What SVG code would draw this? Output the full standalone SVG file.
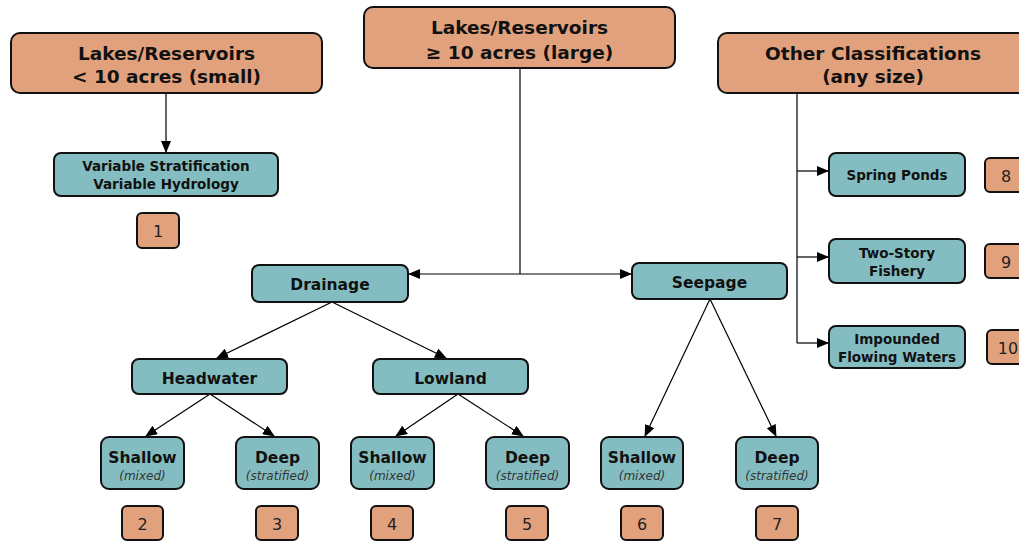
<svg xmlns="http://www.w3.org/2000/svg" width="1019" height="541" viewBox="0 0 1019 541">
<defs>
<marker id="ah" markerWidth="12" markerHeight="10" refX="11" refY="5" orient="auto" markerUnits="userSpaceOnUse"><path d="M0,0 L12,5 L0,10 z" fill="#000"/></marker>
</defs>
<style>
.o{fill:#E2A17D;stroke:#111;stroke-width:2}
.t{fill:#84BDC1;stroke:#111;stroke-width:2}
.h{font-family:"DejaVu Sans",Verdana,sans-serif;font-weight:bold;font-size:18.5px;fill:#111;text-anchor:middle}
.m{font-family:"DejaVu Sans",Verdana,sans-serif;font-weight:bold;font-size:15.5px;fill:#111;text-anchor:middle}
.s{font-family:"DejaVu Sans",Verdana,sans-serif;font-weight:bold;font-size:13.5px;fill:#111;text-anchor:middle}
.i{font-family:"DejaVu Sans",Verdana,sans-serif;font-style:italic;font-size:12px;fill:#333;text-anchor:middle}
.n{font-family:"DejaVu Sans",Verdana,sans-serif;font-size:16px;fill:#222;text-anchor:middle}
.c{fill:none;stroke:#000;stroke-width:1.2}
</style>
<rect width="1019" height="541" fill="#fff"/>
<g id="connectors">
<line class="c" x1="166" y1="93" x2="166" y2="152" marker-end="url(#ah)"/>
<line class="c" x1="520" y1="68" x2="520" y2="274"/>
<line class="c" x1="520" y1="274" x2="409" y2="274" marker-end="url(#ah)"/>
<line class="c" x1="520" y1="274" x2="631" y2="274" marker-end="url(#ah)"/>
<line class="c" x1="797" y1="93" x2="797" y2="343"/>
<line class="c" x1="797" y1="171" x2="828" y2="171" marker-end="url(#ah)"/>
<line class="c" x1="797" y1="257" x2="828" y2="257" marker-end="url(#ah)"/>
<line class="c" x1="797" y1="343" x2="828" y2="343" marker-end="url(#ah)"/>
<line class="c" x1="332" y1="302" x2="217" y2="358" marker-end="url(#ah)"/>
<line class="c" x1="332" y1="302" x2="446" y2="358" marker-end="url(#ah)"/>
<line class="c" x1="210" y1="394" x2="146" y2="436" marker-end="url(#ah)"/>
<line class="c" x1="210" y1="394" x2="274" y2="436" marker-end="url(#ah)"/>
<line class="c" x1="458" y1="394" x2="396" y2="436" marker-end="url(#ah)"/>
<line class="c" x1="458" y1="394" x2="523" y2="436" marker-end="url(#ah)"/>
<line class="c" x1="710" y1="299" x2="645" y2="436" marker-end="url(#ah)"/>
<line class="c" x1="710" y1="299" x2="776" y2="436" marker-end="url(#ah)"/>
</g>
<g id="small"><rect class="o" x="11" y="33" width="311" height="60" rx="9"/><text class="h" x="166.5" y="60">Lakes/Reservoirs</text><text class="h" x="166.5" y="83">&lt; 10 acres (small)</text></g>
<g id="large"><rect class="o" x="364" y="7" width="311" height="61" rx="9"/><text class="h" x="519.5" y="34">Lakes/Reservoirs</text><text class="h" x="519.5" y="59">≥ 10 acres (large)</text></g>
<g id="other"><rect class="o" x="718" y="33" width="310" height="60" rx="9"/><text class="h" x="873" y="60">Other Classifications</text><text class="h" x="873" y="83">(any size)</text></g>
<g id="variable"><rect class="t" x="54" y="153" width="224" height="43" rx="7"/><text class="s" x="166" y="171">Variable Stratification</text><text class="s" x="166" y="189">Variable Hydrology</text></g>
<g id="n1"><rect class="o" x="137" y="213" width="42" height="35" rx="5"/><text class="n" x="158" y="237">1</text></g>
<g id="drainage"><rect class="t" x="252" y="265" width="156" height="37" rx="7"/><text class="m" x="330" y="290">Drainage</text></g>
<g id="seepage"><rect class="t" x="632" y="263" width="155" height="36" rx="7"/><text class="m" x="709.5" y="288">Seepage</text></g>
<g id="headwater"><rect class="t" x="132" y="359" width="155" height="35" rx="7"/><text class="m" x="209.5" y="384">Headwater</text></g>
<g id="lowland"><rect class="t" x="373" y="359" width="155" height="35" rx="7"/><text class="m" x="450.5" y="384">Lowland</text></g>
<g id="hw-shallow"><rect class="t" x="101" y="437" width="83" height="52" rx="8"/><text class="m" x="142.5" y="463">Shallow</text><text class="i" x="142.5" y="480">(mixed)</text></g>
<g id="hw-deep"><rect class="t" x="236" y="437" width="83" height="52" rx="8"/><text class="m" x="277.5" y="463">Deep</text><text class="i" x="277.5" y="480">(stratified)</text></g>
<g id="lw-shallow"><rect class="t" x="351" y="437" width="83" height="52" rx="8"/><text class="m" x="392.5" y="463">Shallow</text><text class="i" x="392.5" y="480">(mixed)</text></g>
<g id="lw-deep"><rect class="t" x="486" y="437" width="83" height="52" rx="8"/><text class="m" x="527.5" y="463">Deep</text><text class="i" x="527.5" y="480">(stratified)</text></g>
<g id="sp-shallow"><rect class="t" x="601" y="437" width="82" height="52" rx="8"/><text class="m" x="642" y="463">Shallow</text><text class="i" x="642" y="480">(mixed)</text></g>
<g id="sp-deep"><rect class="t" x="736" y="437" width="82" height="52" rx="8"/><text class="m" x="777" y="463">Deep</text><text class="i" x="777" y="480">(stratified)</text></g>
<g id="n2"><rect class="o" x="122" y="506" width="41" height="34" rx="5"/><text class="n" x="142.5" y="530">2</text></g>
<g id="n3"><rect class="o" x="256" y="506" width="42" height="34" rx="5"/><text class="n" x="277" y="530">3</text></g>
<g id="n4"><rect class="o" x="371" y="506" width="42" height="34" rx="5"/><text class="n" x="392" y="530">4</text></g>
<g id="n5"><rect class="o" x="506" y="506" width="42" height="34" rx="5"/><text class="n" x="527" y="530">5</text></g>
<g id="n6"><rect class="o" x="621" y="506" width="42" height="34" rx="5"/><text class="n" x="642" y="530">6</text></g>
<g id="n7"><rect class="o" x="756" y="506" width="42" height="34" rx="5"/><text class="n" x="777" y="530">7</text></g>
<g id="spring"><rect class="t" x="829" y="153" width="136" height="43" rx="7"/><text class="s" x="897" y="180">Spring Ponds</text></g>
<g id="twostory"><rect class="t" x="829" y="239" width="136" height="44" rx="7"/><text class="s" x="897" y="258">Two-Story</text><text class="s" x="897" y="276">Fishery</text></g>
<g id="impounded"><rect class="t" x="829" y="326" width="136" height="42" rx="7"/><text class="s" x="897" y="344">Impounded</text><text class="s" x="897" y="362">Flowing Waters</text></g>
<g id="n8"><rect class="o" x="985" y="158" width="42" height="34" rx="5"/><text class="n" x="1006" y="182">8</text></g>
<g id="n9"><rect class="o" x="985" y="244" width="42" height="34" rx="5"/><text class="n" x="1006" y="268">9</text></g>
<g id="n10"><rect class="o" x="987" y="330" width="42" height="34" rx="5"/><text class="n" x="1008" y="354">10</text></g>
</svg>
